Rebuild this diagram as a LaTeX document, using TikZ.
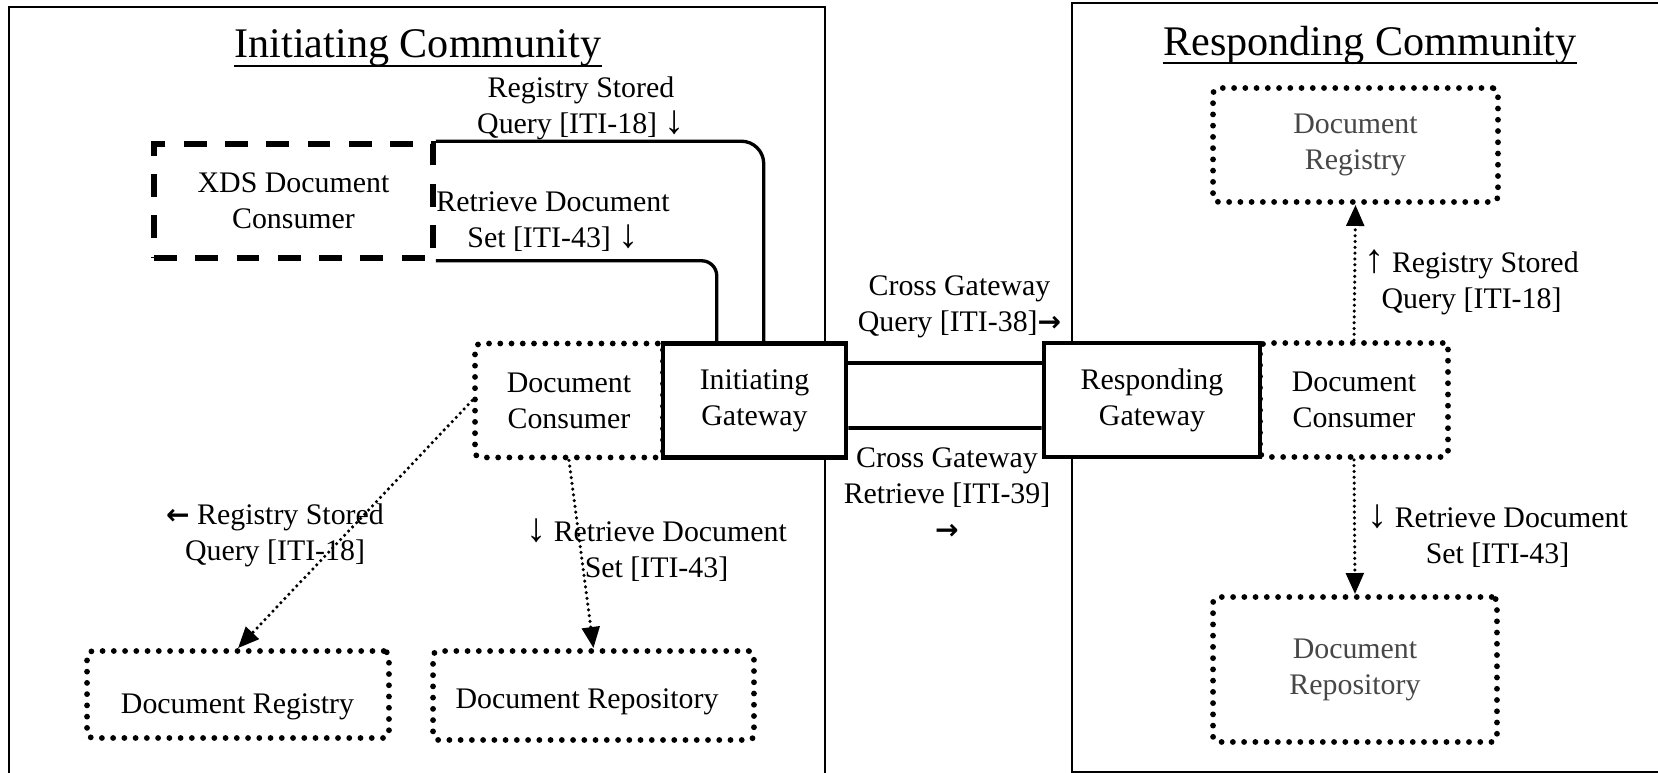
\documentclass[tikz,border=0pt]{standalone}
\usepackage{fontspec}
\setmainfont{Liberation Serif}
\newfontfamily\arrowfont{DejaVu Sans}
\usetikzlibrary{calc,arrows.meta}
\newcommand\mybody{\fontsize{17}{20.5}\selectfont}
\newcommand\mytitle{\fontsize{24}{28}\selectfont}
\newcommand\dn{{\fontsize{23}{20.5}\selectfont ↓}}
\newcommand\upa{{\fontsize{23}{20.5}\selectfont ↑}}
\newcommand\rgt{{\arrowfont\bfseries\fontsize{16}{20.5}\selectfont →}}
\newcommand\lft{{\arrowfont\bfseries\fontsize{16}{20.5}\selectfont ←}}
\tikzset{
  comm/.style={draw, line width=0.8pt},
  titlenode/.style={font=\mytitle, inner sep=0pt, anchor=base},
  uline/.style={line width=1.7pt},
  gw/.style={draw, line width=2.6pt, fill=white, align=center, font=\mybody, inner sep=0pt},
  dotbox/.style={draw, line width=3.3pt, dash pattern=on 0pt off 6.4pt, line cap=round,
    rounded corners=3pt, fill=white, align=center, font=\mybody, inner sep=0pt},
  dashbox/.style={draw, line width=3.2pt, dash pattern=on 13pt off 10.5pt,
    align=center, font=\mybody, inner sep=0pt},
  xline/.style={line width=1.9pt},
  gline/.style={line width=2.2pt},
  dotarrow/.style={line width=2pt, dash pattern=on 0pt off 3.3pt, line cap=round,
    -{Triangle[length=12pt,width=10pt]}},
  lbl/.style={align=center, inner sep=0pt, font=\mybody},
  graytext/.style={text=black!72},
}
\begin{document}
\begin{tikzpicture}[x=0.02cm, y=-0.02cm]
\useasboundingbox (0,0) rectangle (1658,773);
% community frames
\draw[comm] (9,800) -- (9,7) -- (825,7) -- (825,800);
\draw[comm] (1072,3) rectangle (1680,772);
% titles
\node[titlenode] (t1) at (418,58) {Initiating Community};
\draw[uline] ($(t1.base west)+(0,8)$) -- ($(t1.base east)+(0,8)$);
\node[titlenode] (t2) at (1370,56) {Responding Community};
\draw[uline] ($(t2.base west)+(0,7)$) -- ($(t2.base east)+(0,7)$);
% boxes
\node[dashbox, minimum width=5.58cm, minimum height=2.28cm] (xds) at (293.5,201) {XDS Document\\Consumer};
\node[dotbox, minimum width=3.76cm, minimum height=2.28cm] (lcons) at (569,400.5) {Document\\Consumer};
\node[dotbox, minimum width=3.76cm, minimum height=2.28cm] (rcons) at (1354,400) {Document\\Consumer};
\node[gw, minimum width=3.66cm, minimum height=2.28cm] (ig) at (754.5,400.5) {Initiating\\Gateway};
\node[gw, minimum width=4.32cm, minimum height=2.28cm] (rg) at (1152,400) {Responding\\Gateway};
\node[dotbox, graytext, minimum width=5.7cm, minimum height=2.28cm] (rreg) at (1355.5,145) {Document\\Registry};
\node[dotbox, graytext, minimum width=5.68cm, minimum height=2.9cm] (rrep) at (1355,669.5) {Document\\Repository};
\node[dotbox, minimum width=6.04cm, minimum height=1.74cm] (lreg) at (238,694.5) {};
\node[lbl] (lregt) at (237.5,707) {Document Registry};
\node[dotbox, minimum width=6.42cm, minimum height=1.78cm] (lrep) at (593.5,695.5) {};
\node[lbl] (lrept) at (587,702) {Document Repository};
% labels
\node[lbl] (l1) at (581,108.5) {Registry Stored\\Query [ITI-18] \dn};
\node[lbl] (l2) at (553,222) {Retrieve Document\\Set [ITI-43] \dn};
\node[lbl] (l3) at (959.5,307) {Cross Gateway\\Query [ITI-38]\rgt};
\node[lbl] (l4) at (947,493.5) {Cross Gateway\\Retrieve [ITI-39]\\\rgt};
\node[lbl] (l5) at (275,535) {\lft{} Registry Stored\\Query [ITI-18]};
\node[lbl] (l6) at (656.5,550.5) {\dn{} Retrieve Document\\Set [ITI-43]};
\node[lbl] (l7) at (1471.5,282.5) {\upa{} Registry Stored\\Query [ITI-18]};
\node[lbl] (l8) at (1497.5,536.5) {\dn{} Retrieve Document\\Set [ITI-43]};
% XDS consumer links
\draw[xline, rounded corners=0.45cm] (xds.north east) -| ($(ig.north west)+(103,0)$);
\draw[xline, rounded corners=0.3cm] (xds.south east) -| ($(ig.north west)+(56,0)$);
% gateway links
\draw[gline] ($(ig.east)+(0,-37.5)$) -- ($(rg.west)+(0,-37)$);
\draw[gline] ($(ig.east)+(0,27.5)$) -- ($(rg.west)+(0,28)$);
% dotted transactions
\draw[dotarrow] (lcons.west) -- (lreg.north);
\draw[dotarrow] (lcons.south) -- (lrep.north);
\draw[dotarrow] (rcons.north) -- (rreg.south);
\draw[dotarrow] (rcons.south) -- (rrep.north);
\end{tikzpicture}
\end{document}
